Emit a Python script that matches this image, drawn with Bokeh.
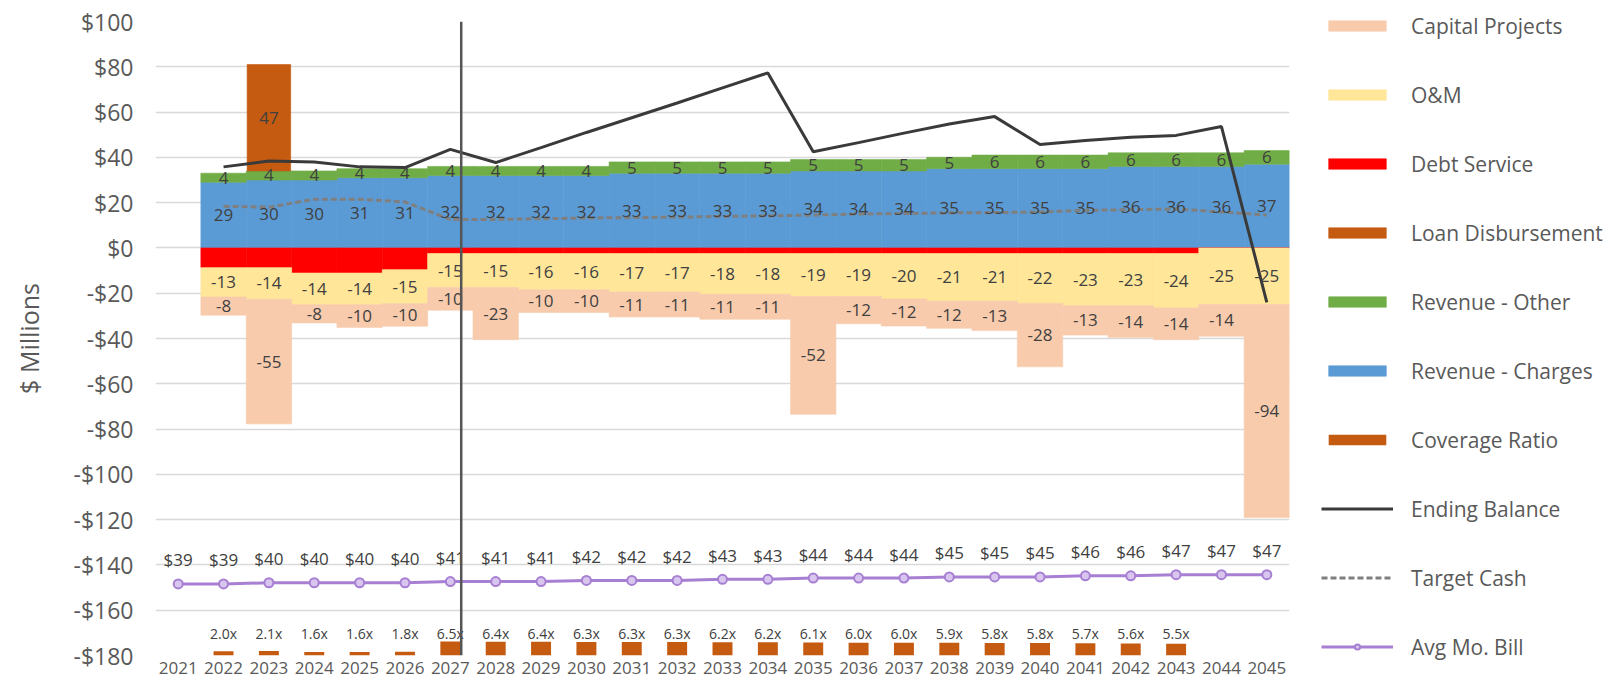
from bokeh.plotting import figure
from bokeh.models import Range1d, FixedTicker, Span, Legend, LegendItem
from bokeh.core.properties import value
from bokeh.embed import file_html
from bokeh.resources import INLINE

# ---------------- data ----------------
years = [2021, 2022, 2023, 2024, 2025, 2026, 2027, 2028, 2029, 2030, 2031, 2032, 2033,
         2034, 2035, 2036, 2037, 2038, 2039, 2040, 2041, 2042, 2043, 2044, 2045]
bar_years = years[1:]

rev_charges = [29, 30, 30, 31, 31, 32, 32, 32, 32, 33, 33, 33, 33, 34, 34, 34, 35, 35, 35, 35, 36, 36, 36, 37]
rev_other = [4, 4, 4, 4, 4, 4, 4, 4, 4, 5, 5, 5, 5, 5, 5, 5, 5, 6, 6, 6, 6, 6, 6, 6]
debt_service = [-8.7, -8.7, -11.1, -11.1, -9.6, -2.5, -2.5, -2.5, -2.5, -2.5, -2.5, -2.5, -2.5,
                -2.5, -2.5, -2.5, -2.5, -2.5, -2.5, -2.5, -2.5, -2.5, 0, 0]
om = [-13, -14, -14, -14, -15, -15, -15, -16, -16, -17, -17, -18, -18, -19, -19, -20, -21, -21,
      -22, -23, -23, -24, -25, -25]
capital = [-8, -55, -8, -10, -10, -10, -23, -10, -10, -11, -11, -11, -11, -52, -12, -12, -12, -13,
           -28, -13, -14, -14, -14, -94]
loan_years = [2023]
loan = [47]

ending_balance = [35.8, 38.4, 38.0, 35.8, 35.5, 43.5, 37.7, 44.3, 51.0, 57.5, 64.0, 70.7, 77.3,
                  42.5, 46.5, 50.7, 54.7, 58.0, 45.7, 47.4, 48.9, 49.7, 53.6, -24.0]
target_cash = [18.4, 18.0, 21.5, 21.5, 20.3, 12.6, 12.6, 12.9, 13.2, 13.4, 13.6, 13.9, 14.2,
               14.5, 15.0, 15.2, 15.5, 15.6, 15.9, 16.6, 16.9, 17.2, 15.9, 14.5]

avg_bill = [39, 39, 40, 40, 40, 40, 41, 41, 41, 42, 42, 42, 43, 43, 44, 44, 44, 45, 45, 45, 46, 46, 47, 47, 47]

cov_years = [2022, 2023, 2024, 2025, 2026, 2027, 2028, 2029, 2030, 2031, 2032, 2033, 2034,
             2035, 2036, 2037, 2038, 2039, 2040, 2041, 2042, 2043]
coverage = [2.0, 2.1, 1.6, 1.6, 1.8, 6.5, 6.4, 6.4, 6.3, 6.3, 6.3, 6.2, 6.2, 6.1, 6.0, 6.0, 5.9,
            5.8, 5.8, 5.7, 5.6, 5.5]

y_ticks = [100, 80, 60, 40, 20, 0, -20, -40, -60, -80, -100, -120, -140, -160, -180]
y_tick_labels = ["$100", "$80", "$60", "$40", "$20", "$0", "-$20", "-$40", "-$60", "-$80",
                 "-$100", "-$120", "-$140", "-$160", "-$180"]

marker_year = 2027.24

# ---------------- colours ----------------
C_CAP = "#F8CBAD"
C_OM = "#FFE699"
C_DEBT = "#FF0000"
C_LOAN = "#C55A11"
C_OTHER = "#70AD47"
C_CHG = "#5B9BD5"
C_COV = "#C55A11"
C_BAL = "#3A3A3A"
C_TGT = "#7F7F7F"
C_BILL = "#A77FD3"
TXT = "#404040"
AX = "#595959"
FONT = "Open Sans"

# ---------------- stacks ----------------
chg_top = list(rev_charges)
oth_top = [a + b for a, b in zip(rev_charges, rev_other)]
ds_bot = list(debt_service)
om_bot = [a + b for a, b in zip(debt_service, om)]
cap_bot = [a + b for a, b in zip(om_bot, capital)]
loan_bot = [oth_top[bar_years.index(y)] for y in loan_years]
loan_top = [b + v for b, v in zip(loan_bot, loan)]

p = figure(frame_width=1134, frame_height=634,
           x_range=Range1d(2020.5, 2045.5), y_range=Range1d(-180, 100),
           output_backend="svg", toolbar_location=None,
           min_border_left=155, min_border_top=21, min_border_bottom=29, min_border_right=316)
p.extra_y_ranges = {"bill": Range1d(-22.7, 523.7), "cov": Range1d(0, 296)}

p.outline_line_color = None
p.background_fill_color = "white"
p.xgrid.visible = False
p.ygrid.grid_line_color = "#d9d9d9"
p.ygrid.grid_line_width = 1.5
p.ygrid.ticker = FixedTicker(ticks=y_ticks)

p.yaxis.ticker = FixedTicker(ticks=y_ticks)
p.yaxis.major_label_overrides = {t: l for t, l in zip(y_ticks, y_tick_labels)}
p.xaxis.ticker = FixedTicker(ticks=years)
p.xaxis.major_label_overrides = {y: str(y) for y in years}
for ax in (p.xaxis, p.yaxis):
    ax.axis_line_color = None
    ax.major_tick_line_color = None
    ax.minor_tick_line_color = None
    ax.major_tick_out = 0
    ax.major_label_text_font = FONT
    ax.major_label_text_color = AX
p.yaxis.major_label_text_font_size = "23px"
p.yaxis.major_label_standoff = 22
p.xaxis.major_label_text_font_size = "17px"
p.xaxis.major_label_standoff = 6
p.yaxis.axis_label = "$ Millions"
p.yaxis.axis_label_text_font = FONT
p.yaxis.axis_label_text_font_size = "25px"
p.yaxis.axis_label_text_font_style = "normal"
p.yaxis.axis_label_text_color = AX
p.yaxis.axis_label_standoff = 24

def bars(bottom, top, color, xs=bar_years, width=1.0):
    return p.vbar(x=xs, bottom=bottom, top=top, width=width, fill_color=color,
                  line_color=color, line_width=0.6)

r_chg = bars([0] * len(bar_years), chg_top, C_CHG)
r_oth = bars(chg_top, oth_top, C_OTHER)
r_loan = bars(loan_bot, loan_top, C_LOAN, xs=loan_years, width=0.96)
r_ds = bars(ds_bot, [0] * len(bar_years), C_DEBT)
r_om = bars(om_bot, ds_bot, C_OM)
r_cap = bars(cap_bot, om_bot, C_CAP)

r_cov = p.vbar(x=cov_years, bottom=0, top=coverage, width=0.44, fill_color=C_COV,
               line_color=None, y_range_name="cov")

r_tgt = p.line(bar_years, target_cash, line_color=C_TGT, line_width=3, line_dash="6 3")
r_bal = p.line(bar_years, ending_balance, line_color=C_BAL, line_width=3)
r_bill = p.line(years, avg_bill, line_color=C_BILL, line_width=3, y_range_name="bill")
r_billm = p.scatter(years, avg_bill, size=9, fill_color="#D9C6EE", line_color=C_BILL,
                    line_width=2, y_range_name="bill")

p.add_layout(Span(location=marker_year, dimension="height", line_color="#555555", line_width=2.5))

# ---------------- data labels ----------------
lx, ly, lt = [], [], []
for i, yv in enumerate(bar_years):
    lx += [yv, yv, yv, yv]
    ly += [(0 + chg_top[i]) / 2, (chg_top[i] + oth_top[i]) / 2,
           (ds_bot[i] + om_bot[i]) / 2, (om_bot[i] + cap_bot[i]) / 2]
    lt += [str(rev_charges[i]), str(rev_other[i]), str(om[i]), str(capital[i])]
for j, yv in enumerate(loan_years):
    lx.append(yv)
    ly.append((loan_bot[j] + loan_top[j]) / 2)
    lt.append(str(loan[j]))
p.text(x=lx, y=ly, text=lt, text_font=value(FONT), text_font_size="17px", text_color=TXT,
       text_align="center", text_baseline="middle")

p.text(x=years, y=avg_bill, text=["$" + str(v) for v in avg_bill], y_range_name="bill",
       y_offset=-24, text_font=value(FONT), text_font_size="17px", text_color=TXT,
       text_align="center", text_baseline="middle")

p.text(x=cov_years, y=[10.5] * len(cov_years), text=["%.1fx" % v for v in coverage],
       y_range_name="cov", text_font=value(FONT), text_font_size="14px", text_color=TXT,
       text_align="center", text_baseline="middle")

# ---------------- legend ----------------
legend = Legend(items=[
    LegendItem(label="Capital Projects", renderers=[r_cap]),
    LegendItem(label="O&M", renderers=[r_om]),
    LegendItem(label="Debt Service", renderers=[r_ds]),
    LegendItem(label="Loan Disbursement", renderers=[r_loan]),
    LegendItem(label="Revenue - Other", renderers=[r_oth]),
    LegendItem(label="Revenue - Charges", renderers=[r_chg]),
    LegendItem(label="Coverage Ratio", renderers=[r_cov]),
    LegendItem(label="Ending Balance", renderers=[r_bal]),
    LegendItem(label="Target Cash", renderers=[r_tgt]),
    LegendItem(label="Avg Mo. Bill", renderers=[r_bill, r_billm]),
], location=(32, -6), orientation="vertical", glyph_width=72, glyph_height=13,
   label_standoff=18, label_height=29, spacing=40, padding=0, margin=0,
   border_line_color=None, background_fill_alpha=0,
   label_text_font=FONT, label_text_font_size="21px", label_text_color=AX)
p.add_layout(legend, "right")

open("out.html", "w").write(file_html(p, INLINE))
